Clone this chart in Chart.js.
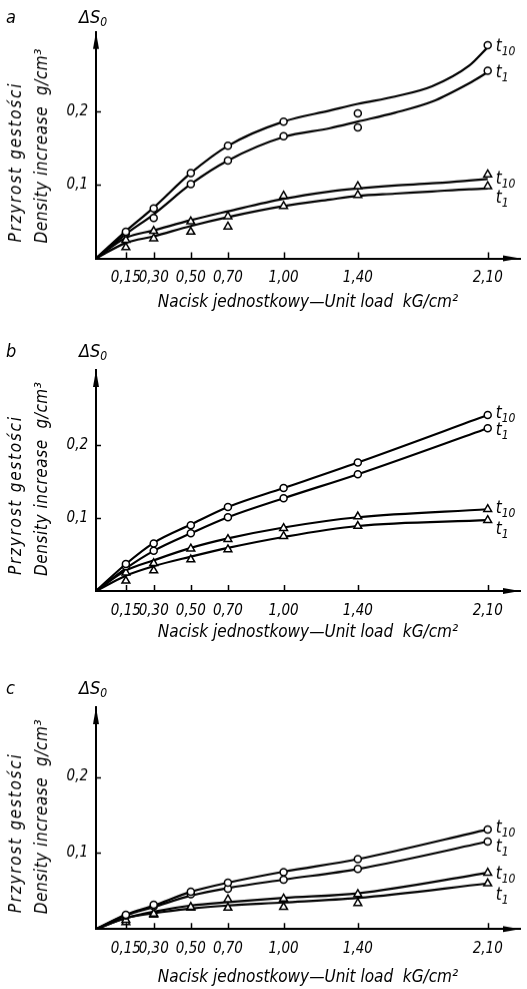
<!DOCTYPE html>
<html>
<head>
<meta charset="utf-8">
<script src="https://cdn.jsdelivr.net/npm/chart.js@4.4.1/dist/chart.umd.min.js"></script>
<style>
  html, body { margin: 0; padding: 0; background: #fff; }
  body { width: 527px; height: 989px; position: relative; overflow: hidden; }
  .panel { position: absolute; left: 0; width: 527px; }
  .tag {
    position: absolute; top: 8px; line-height: 1;
    font-family: 'DejaVu Sans Condensed', 'DejaVu Sans', sans-serif;
    font-style: italic; font-size: 18px; color: #000;
  }
  .tag sub { font-size: 12px; vertical-align: -3px; }
</style>
</head>
<body>
<div class="panel" id="panel-a"><div class="tag" style="left:6px">a</div><div class="tag" style="left:79px">ΔS<sub>0</sub></div><canvas id="chartA"></canvas></div>
<div class="panel" id="panel-b"><div class="tag" style="left:6px">b</div><div class="tag" style="left:79px">ΔS<sub>0</sub></div><canvas id="chartB"></canvas></div>
<div class="panel" id="panel-c"><div class="tag" style="left:6px">c</div><div class="tag" style="left:79px">ΔS<sub>0</sub></div><canvas id="chartC"></canvas></div>

<script>
/* ── Data ───────────────────────────────────────────────────── */
const loads  = [0.15, 0.30, 0.50, 0.70, 1.00, 1.40, 2.10];
const xTicks = [0.15, 0.30, 0.50, 0.70, 1.00, 1.40, 2.10];
const yTicks = [0.1, 0.2];

// the drawn curves leave from the axis corner, a little left of 0 on the tick scale
const X_MIN = -0.011;
const X_MAX = 2.274;

// panel a: measured points
const aCircleT10 = [0.036, 0.068, 0.116, 0.153, 0.186, 0.197, 0.290];
const aCircleT1  = [0.034, 0.055, 0.101, 0.133, 0.166, 0.178, 0.255];
const aTriT10    = [0.025, 0.037, 0.050, 0.057, 0.085, 0.098, 0.114];
const aTriT1     = [0.015, 0.027, 0.036, 0.043, 0.071, 0.086, 0.098];
// panel a: drawn curves
const aCurveX       = [X_MIN, 0.15, 0.30, 0.50, 0.70, 1.00, 1.25, 1.40, 1.60, 1.80, 2.00, 2.10];
const aCurveCircT10 = [0, 0.037, 0.069, 0.116, 0.153, 0.186, 0.201, 0.210, 0.220, 0.234, 0.262, 0.287];
const aCurveCircT1  = [0, 0.033, 0.060, 0.101, 0.133, 0.165, 0.177, 0.186, 0.198, 0.213, 0.238, 0.253];
const aCurveTriT10  = [0, 0.028, 0.038, 0.052, 0.064, 0.081, 0.091, 0.095, 0.099, 0.102, 0.106, 0.108];
const aCurveTriT1   = [0, 0.021, 0.030, 0.044, 0.056, 0.071, 0.080, 0.085, 0.088, 0.091, 0.094, 0.095];

// panel b
const bCircleT10 = [0.037, 0.065, 0.090, 0.115, 0.141, 0.176, 0.241];
const bCircleT1  = [0.034, 0.055, 0.079, 0.101, 0.127, 0.160, 0.223];
const bTriT10    = [0.025, 0.038, 0.058, 0.071, 0.086, 0.102, 0.112];
const bTriT1     = [0.014, 0.028, 0.043, 0.057, 0.075, 0.089, 0.097];
const bCurveX       = [X_MIN, 0.15, 0.30, 0.50, 0.70, 1.00, 1.40, 2.10];
const bCurveCircT10 = [0, 0.037, 0.066, 0.091, 0.115, 0.141, 0.176, 0.241];
const bCurveCircT1  = [0, 0.031, 0.055, 0.079, 0.101, 0.127, 0.160, 0.223];
const bCurveTriT10  = [0, 0.028, 0.042, 0.059, 0.072, 0.087, 0.101, 0.112];
const bCurveTriT1   = [0, 0.021, 0.034, 0.047, 0.059, 0.074, 0.089, 0.097];

// panel c
const cCircleT10 = [0.019, 0.032, 0.049, 0.061, 0.075, 0.092, 0.131];
const cCircleT1  = [0.018, 0.030, 0.046, 0.053, 0.065, 0.079, 0.115];
const cTriT10    = [0.012, 0.020, 0.029, 0.039, 0.040, 0.046, 0.074];
const cTriT1     = [0.009, 0.019, 0.028, 0.028, 0.029, 0.034, 0.060];
const cCurveX       = [X_MIN, 0.15, 0.30, 0.50, 0.70, 1.00, 1.40, 2.10];
const cCurveCircT10 = [0, 0.019, 0.031, 0.049, 0.061, 0.0755, 0.092, 0.131];
const cCurveCircT1  = [0, 0.018, 0.029, 0.044, 0.054, 0.065, 0.079, 0.115];
const cCurveTriT10  = [0, 0.0145, 0.023, 0.031, 0.0355, 0.041, 0.047, 0.074];
const cCurveTriT1   = [0, 0.0145, 0.021, 0.027, 0.031, 0.035, 0.041, 0.060];

/* ── Style ──────────────────────────────────────────────────── */
const FONT = "'DejaVu Sans Condensed', 'DejaVu Sans', sans-serif";
const INK  = '#000';

// narrow face for the tick numbers if it is installed
function hasFont(name) {
    const c = document.createElement('canvas').getContext('2d');
    c.font = '20px monospace';
    const base = c.measureText('0,15 Nacisk').width;
    c.font = '20px "' + name + '", monospace';
    return c.measureText('0,15 Nacisk').width !== base;
}
const NARROW    = hasFont('Liberation Sans Narrow');
const TICK_FONT = NARROW ? "'Liberation Sans Narrow', " + FONT : FONT;
const TICK_SIZE = NARROW ? 17 : 15;

function fmt(v, d) { return v.toFixed(d).replace('.', ','); }
function pts(xs, ys) { return xs.map((x, i) => ({ x: x, y: ys[i] })); }

// draw a rotated line stretched to a target length (the original lettering is wide-set)
function spacedText(ctx, text, cx, startY, length) {
    ctx.save();
    ctx.translate(cx, startY);
    ctx.rotate(-Math.PI / 2);
    if ('letterSpacing' in ctx) {
        ctx.letterSpacing = '0px';
        const w = ctx.measureText(text).width;
        const gap = (length - w) / (text.length - 1);
        if (gap > 0) ctx.letterSpacing = gap.toFixed(2) + 'px';
    }
    ctx.fillText(text, 0, 0);
    ctx.restore();
}

// arrows, inward tick marks, y title and t-labels
const axisDecor = {
    id: 'axisDecor',
    afterDraw(chart) {
        const { ctx, chartArea: a, scales: { x, y } } = chart;
        ctx.save();
        ctx.fillStyle = INK;
        ctx.strokeStyle = INK;

        // arrow heads
        ctx.beginPath();
        ctx.moveTo(a.left, a.top);
        ctx.lineTo(a.left - 3, a.top + 17);
        ctx.lineTo(a.left + 3, a.top + 17);
        ctx.closePath();
        ctx.fill();
        ctx.beginPath();
        ctx.moveTo(a.right, a.bottom);
        ctx.lineTo(a.right - 17, a.bottom - 3);
        ctx.lineTo(a.right - 17, a.bottom + 3);
        ctx.closePath();
        ctx.fill();

        // ticks pointing into the plot
        ctx.lineWidth = 1.5;
        ctx.beginPath();
        xTicks.forEach(v => {
            const px = Math.round(x.getPixelForValue(v)) + 0.5;
            ctx.moveTo(px, a.bottom);
            ctx.lineTo(px, a.bottom - 6);
        });
        yTicks.forEach(v => {
            const py = Math.round(y.getPixelForValue(v)) + 0.5;
            ctx.moveTo(a.left, py);
            ctx.lineTo(a.left + 5, py);
        });
        ctx.stroke();

        // y axis title (two lines, bottom aligned)
        ctx.textAlign = 'left';
        ctx.textBaseline = 'middle';
        ctx.font = 'italic 17px ' + FONT;
        spacedText(ctx, 'Przyrost gestości', 16.5, a.bottom - 16, 158);
        spacedText(ctx, 'Density increase  g/cm³', 42.5, a.bottom - 15, 194);

        // t10 / t1 labels next to the last markers
        ctx.textBaseline = 'alphabetic';
        chart.data.datasets.forEach((ds, i) => {
            if (!ds.endLabel) return;
            const els = chart.getDatasetMeta(i).data;
            const p = els[els.length - 1];
            const ly = p.y + ds.labelDy;
            ctx.font = 'italic 17px ' + FONT;
            ctx.fillText('t', p.x + 8, ly + 6);
            const w = ctx.measureText('t').width;
            ctx.font = 'italic 12px ' + FONT;
            ctx.fillText(ds.endLabel, p.x + 8 + w, ly + 10);
        });
        ctx.restore();
    }
};

function curve(label, xs, ys) {
    return {
        label: label,
        data: pts(xs, ys),
        borderColor: INK,
        borderWidth: 2.2,
        pointRadius: 0,
        cubicInterpolationMode: 'monotone',
        fill: false,
        order: 2
    };
}

function marks(label, ys, style, endLabel, labelDy) {
    return {
        label: label,
        data: pts(loads, ys),
        showLine: false,
        pointStyle: style,
        pointRadius: style === 'triangle' ? 4.5 : 3.5,
        pointBorderWidth: 1.5,
        pointBorderColor: INK,
        pointBackgroundColor: '#fff',
        endLabel: endLabel,
        labelDy: labelDy,
        order: 1
    };
}

function makeChart(canvasId, panelId, lay, sets) {
    const panel = document.getElementById(panelId);
    const xHeight = lay.titleOff + 10.2;
    panel.style.top = lay.top + 'px';
    panel.style.height = (lay.originY + xHeight) + 'px';

    return new Chart(document.getElementById(canvasId), {
        type: 'line',
        data: { datasets: sets },
        options: {
            animation: false,
            responsive: true,
            maintainAspectRatio: false,
            layout: { padding: { top: lay.axisTop, right: 7, bottom: 0, left: 0 } },
            plugins: { legend: { display: false }, tooltip: { enabled: false } },
            scales: {
                x: {
                    type: 'linear',
                    min: X_MIN,
                    max: X_MAX,
                    afterBuildTicks: ax => { ax.ticks = xTicks.map(v => ({ value: v })); },
                    afterFit: ax => { ax.height = xHeight; },
                    grid: { display: false, drawTicks: false },
                    border: { display: true, color: INK, width: 2 },
                    ticks: {
                        color: INK,
                        padding: 11,
                        maxRotation: 0,
                        autoSkip: false,
                        font: { family: TICK_FONT, size: TICK_SIZE, style: 'italic' },
                        callback: v => fmt(v, 2)
                    },
                    title: {
                        display: true,
                        text: 'Nacisk jednostkowy—Unit load  kG/cm²',
                        color: INK,
                        padding: 0,
                        font: { family: FONT, size: 17, style: 'italic', lineHeight: 1.2 }
                    }
                },
                y: {
                    type: 'linear',
                    min: 0,
                    max: lay.yMax,
                    afterBuildTicks: ax => { ax.ticks = yTicks.map(v => ({ value: v })); },
                    afterFit: ax => { ax.width = 96; },
                    grid: { display: false, drawTicks: false },
                    border: { display: true, color: INK, width: 2 },
                    ticks: {
                        color: INK,
                        padding: 8,
                        font: { family: TICK_FONT, size: TICK_SIZE, style: 'italic' },
                        callback: v => fmt(v, 1)
                    }
                }
            }
        },
        plugins: [axisDecor]
    });
}

makeChart('chartA', 'panel-a', { top: 0, axisTop: 31.7, originY: 257.5, titleOff: 44, yMax: 0.308 }, [
    marks('t10 ○', aCircleT10, 'circle', '10', 0),
    marks('t1 ○', aCircleT1, 'circle', '1', 0),
    marks('t10 △', aTriT10, 'triangle', '10', 3),
    marks('t1 △', aTriT1, 'triangle', '1', 10),
    curve('t10 ○ curve', aCurveX, aCurveCircT10),
    curve('t1 ○ curve', aCurveX, aCurveCircT1),
    curve('t10 △ curve', aCurveX, aCurveTriT10),
    curve('t1 △ curve', aCurveX, aCurveTriT1)
]);

makeChart('chartB', 'panel-b', { top: 334, axisTop: 36, originY: 257, titleOff: 42, yMax: 0.3027 }, [
    marks('t10 ○', bCircleT10, 'circle', '10', -3),
    marks('t1 ○', bCircleT1, 'circle', '1', 1),
    marks('t10 △', bTriT10, 'triangle', '10', -2),
    marks('t1 △', bTriT1, 'triangle', '1', 8),
    curve('t10 ○ curve', bCurveX, bCurveCircT10),
    curve('t1 ○ curve', bCurveX, bCurveCircT1),
    curve('t10 △ curve', bCurveX, bCurveTriT10),
    curve('t1 △ curve', bCurveX, bCurveTriT1)
]);

makeChart('chartC', 'panel-c', { top: 671, axisTop: 36, originY: 257.3, titleOff: 48, yMax: 0.2916 }, [
    marks('t10 ○', cCircleT10, 'circle', '10', -3),
    marks('t1 ○', cCircleT1, 'circle', '1', 4),
    marks('t10 △', cTriT10, 'triangle', '10', 0),
    marks('t1 △', cTriT1, 'triangle', '1', 10),
    curve('t10 ○ curve', cCurveX, cCurveCircT10),
    curve('t1 ○ curve', cCurveX, cCurveCircT1),
    curve('t10 △ curve', cCurveX, cCurveTriT10),
    curve('t1 △ curve', cCurveX, cCurveTriT1)
]);
</script>
</body>
</html>
